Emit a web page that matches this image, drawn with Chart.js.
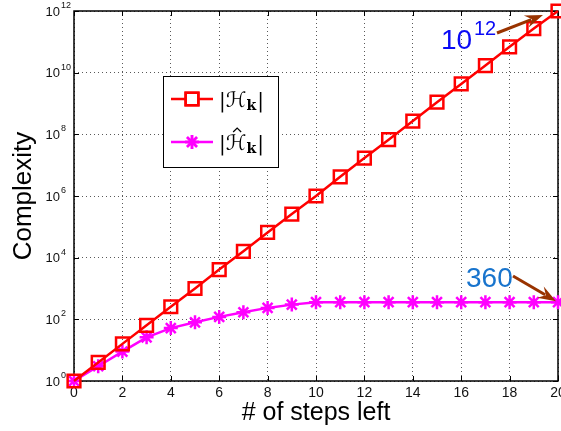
<!DOCTYPE html>
<html>
<head>
<meta charset="utf-8">
<script src="https://cdn.jsdelivr.net/npm/chart.js@4/dist/chart.umd.min.js"></script>
<style>
  body { margin: 0; background: #fff; }
  #wrap { width: 561px; height: 431px; }
</style>
</head>
<body>
<div id="wrap"><canvas id="complexityChart" width="561" height="431"></canvas></div>
<script>
// steps left (x axis)
const steps = [0, 1, 2, 3, 4, 5, 6, 7, 8, 9, 10, 11, 12, 13, 14, 15, 16, 17, 18, 19, 20];
// |H_k| : grows by ~4x per step
const fullSizes = [1, 4, 16, 64, 256, 1.0e3, 4.1e3, 1.6e4, 6.6e4, 2.6e5, 1.0e6, 4.2e6, 1.7e7,
  6.7e7, 2.7e8, 1.1e9, 4.3e9, 1.7e10, 6.9e10, 2.7e11, 1.0e12];
// |H^_k| : saturates at 360
const reducedSizes = [1, 3, 9, 26, 52, 80, 120, 170, 235, 300, 360, 360, 360, 360, 360, 360,
  360, 360, 360, 360, 360];
// y tick exponents (10^e)
const yExponents = [0, 2, 4, 6, 8, 10, 12];

const RED = "#ff0000";
const MAGENTA = "#ff00ff";
const ARROW = "#993300";
const SANS = '"Liberation Sans", Arial, sans-serif';
const SERIF = '"DejaVu Serif", "DejaVu Sans", serif';

// petite flèche style matlab
function drawArrow(ctx, x1, y1, x2, y2) {
  const ang = Math.atan2(y2 - y1, x2 - x1);
  const c = Math.cos(ang), s = Math.sin(ang);
  const headLen = 18, headW = 6.5;
  ctx.save();
  ctx.strokeStyle = ARROW;
  ctx.fillStyle = ARROW;
  ctx.lineWidth = 3;
  ctx.beginPath();
  ctx.moveTo(x1, y1);
  ctx.lineTo(x2 - headLen * 0.7 * c, y2 - headLen * 0.7 * s);
  ctx.stroke();
  ctx.beginPath();
  ctx.moveTo(x2, y2);
  ctx.lineTo(x2 - headLen * c + headW * s, y2 - headLen * s - headW * c);
  ctx.lineTo(x2 - headLen * 0.65 * c, y2 - headLen * 0.65 * s);
  ctx.lineTo(x2 - headLen * c - headW * s, y2 - headLen * s + headW * c);
  ctx.closePath();
  ctx.fill();
  ctx.restore();
}

// |H_k| with optional hat
function drawMathLabel(ctx, x, y, hat) {
  ctx.save();
  ctx.fillStyle = "#000";
  ctx.textBaseline = "alphabetic";
  ctx.textAlign = "left";
  ctx.font = "20px " + SERIF;
  ctx.fillText("|", x, y);
  let cx = x + ctx.measureText("|").width;
  ctx.font = "21px " + SERIF;
  ctx.fillText("\u210B", cx, y);
  const hW = ctx.measureText("\u210B").width;
  if (hat) {
    ctx.strokeStyle = "#000";
    ctx.lineWidth = 1.2;
    ctx.beginPath();
    const hx = cx + hW * 0.55;
    ctx.moveTo(hx - 4, y - 18);
    ctx.lineTo(hx, y - 22);
    ctx.lineTo(hx + 4, y - 18);
    ctx.stroke();
  }
  cx += hW;
  ctx.font = "bold 14px " + SERIF;
  ctx.fillText("k", cx, y + 3);
  cx += ctx.measureText("k").width + 1;
  ctx.font = "20px " + SERIF;
  ctx.fillText("|", cx, y);
  ctx.restore();
}

const decorPlugin = {
  id: "decorPlugin",
  beforeDatasetsDraw(chart) {
    const { ctx, chartArea: a, scales: { x, y } } = chart;
    ctx.save();
    // cadre
    ctx.strokeStyle = "#000";
    ctx.lineWidth = 1.5;
    ctx.strokeRect(a.left, a.top, a.right - a.left, a.bottom - a.top);
    // graduations vers l'intérieur
    ctx.lineWidth = 1;
    ctx.beginPath();
    x.ticks.forEach((t) => {
      const px = Math.round(x.getPixelForValue(t.value)) + 0.5;
      ctx.moveTo(px, a.bottom); ctx.lineTo(px, a.bottom - 5);
      ctx.moveTo(px, a.top); ctx.lineTo(px, a.top + 5);
    });
    y.ticks.forEach((t) => {
      const py = Math.round(y.getPixelForValue(t.value)) + 0.5;
      ctx.moveTo(a.left, py); ctx.lineTo(a.left + 5, py);
      ctx.moveTo(a.right, py); ctx.lineTo(a.right - 5, py);
    });
    ctx.stroke();
    // étiquettes x
    ctx.fillStyle = "#111";
    ctx.font = "14px " + SANS;
    ctx.textAlign = "center";
    ctx.textBaseline = "middle";
    x.ticks.forEach((t) => {
      ctx.fillText(String(t.value), x.getPixelForValue(t.value), a.bottom + 12);
    });
    // étiquettes 10^e
    ctx.textBaseline = "alphabetic";
    yExponents.forEach((e) => {
      const py = y.getPixelForValue(Math.pow(10, e));
      ctx.font = "13px " + SANS;
      ctx.textAlign = "right";
      ctx.fillText("10", 60, py + 4.5);
      ctx.font = "9px " + SANS;
      ctx.textAlign = "left";
      ctx.fillText(String(e), 61, py - 3);
    });
    ctx.restore();
  },
  afterDraw(chart) {
    const { ctx, scales: { x, y } } = chart;
    ctx.save();
    // légende
    const lx = 163, ly = 76, lw = 115, lh = 91;
    ctx.fillStyle = "#fff";
    ctx.fillRect(lx, ly, lw, lh);
    ctx.strokeStyle = "#000";
    ctx.lineWidth = 1;
    ctx.strokeRect(lx + 0.5, ly + 0.5, lw, lh);
    const rows = [
      { yy: 99, ds: chart.data.datasets[0], hat: false },
      { yy: 142, ds: chart.data.datasets[1], hat: true },
    ];
    rows.forEach((r) => {
      ctx.strokeStyle = r.ds.borderColor;
      ctx.lineWidth = r.ds.borderWidth;
      ctx.beginPath();
      ctx.moveTo(171, r.yy);
      ctx.lineTo(213, r.yy);
      ctx.stroke();
      Chart.helpers.drawPoint(ctx, {
        pointStyle: r.ds.pointStyle,
        radius: r.ds.pointRadius,
        borderWidth: r.ds.pointBorderWidth,
        rotation: 0,
      }, 192, r.yy);
      ctx.stroke();
      drawMathLabel(ctx, 219, r.yy + 8, r.hat);
    });

    // annotation 10^12
    const last = steps.length - 1;
    const p1x = x.getPixelForValue(steps[last]);
    const p1y = y.getPixelForValue(fullSizes[last]);
    ctx.fillStyle = "#0a0af5";
    ctx.textAlign = "left";
    ctx.textBaseline = "alphabetic";
    ctx.font = "28px " + SANS;
    ctx.fillText("10", 441, 49);
    ctx.font = "20px " + SANS;
    ctx.fillText("12", 474, 35);
    drawArrow(ctx, 497, 33, p1x - 15, p1y + 4);

    // annotation 360
    const p2x = x.getPixelForValue(steps[last]);
    const p2y = y.getPixelForValue(reducedSizes[last]);
    ctx.fillStyle = "#1874cd";
    ctx.font = "28px " + SANS;
    ctx.fillText(String(reducedSizes[last]), 466, 287);
    drawArrow(ctx, 513, 276, p2x - 2, p2y - 1);
    ctx.restore();
  },
};

const ctx = document.getElementById("complexityChart").getContext("2d");
const complexityChart = new Chart(ctx, {
  type: "line",
  data: {
    datasets: [
      {
        label: "|H_k|",
        data: steps.map((s, i) => ({ x: s, y: fullSizes[i] })),
        borderColor: RED,
        backgroundColor: "rgba(0,0,0,0)",
        borderWidth: 2.5,
        pointStyle: "rect",
        pointRadius: 9,
        pointBorderWidth: 2.5,
        pointBorderColor: RED,
        pointBackgroundColor: "rgba(0,0,0,0)",
        tension: 0,
        clip: false,
      },
      {
        label: "|H^_k|",
        data: steps.map((s, i) => ({ x: s, y: reducedSizes[i] })),
        borderColor: MAGENTA,
        backgroundColor: MAGENTA,
        borderWidth: 2.5,
        pointStyle: "star",
        pointRadius: 7,
        pointBorderWidth: 2.5,
        pointBorderColor: MAGENTA,
        tension: 0,
        clip: false,
      },
    ],
  },
  options: {
    responsive: false,
    animation: false,
    events: [],
    layout: { autoPadding: false, padding: { top: 11, right: 3, left: 0, bottom: 0 } },
    plugins: { legend: { display: false }, tooltip: { enabled: false } },
    scales: {
      x: {
        type: "linear",
        min: 0,
        max: 20,
        ticks: { stepSize: 2, display: false },
        grid: { color: "rgba(0,0,0,0.65)", lineWidth: 1, drawTicks: false },
        border: { display: false, dash: [1, 3] },
        title: {
          display: true,
          text: "# of steps left",
          color: "#000",
          font: { family: SANS, size: 25 },
          padding: { top: 0, bottom: 3 },
        },
        afterFit: (scale) => {
          scale.height = 50;
        },
      },
      y: {
        type: "logarithmic",
        min: 1,
        max: 1e12,
        ticks: { display: false },
        afterBuildTicks: (scale) => {
          scale.ticks = yExponents.map((e) => ({ value: Math.pow(10, e) }));
        },
        grid: { color: "rgba(0,0,0,0.65)", lineWidth: 1, drawTicks: false },
        border: { display: false, dash: [1, 3] },
        title: {
          display: true,
          text: "Complexity",
          color: "#000",
          font: { family: SANS, size: 26 },
          padding: { top: 8, bottom: 0 },
        },
        afterFit: (scale) => {
          scale.width = 74;
        },
      },
    },
  },
  plugins: [decorPlugin],
});
</script>
</body>
</html>
